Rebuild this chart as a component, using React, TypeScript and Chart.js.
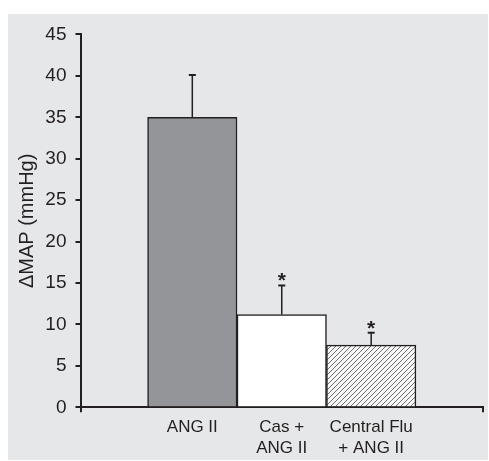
import React, { useEffect, useRef } from "react";
import { Chart, registerables } from "chart.js";

Chart.register(...registerables);

// ---- data ----
const categories: string[][] = [["ANG II"], ["Cas +", "ANG II"], ["Central Flu", "+ ANG II"]];
const meanValues: number[] = [35, 11.2, 7.5];
const semValues: number[] = [5.1, 3.5, 1.5];
const significance: string[] = ["", "*", "*"];
const yTicks = { min: 0, max: 45, step: 5 };
const yTitle = "\u0394MAP (mmHg)";

// ---- layout / style ----
const INK = "#231f20";
const PANEL = "#e6e7e8";
const FONT = '"Liberation Sans", Arial, Helvetica, sans-serif';
const X_FIRST = 1.25; // position of the first bar on the x axis
const X_MAX = 4.5;

function makeHatch(): CanvasPattern | string {
  const s = 5;
  const c = document.createElement("canvas");
  c.width = s;
  c.height = s;
  const g = c.getContext("2d");
  if (!g) return "#ffffff";
  g.fillStyle = "#f7f7f7";
  g.fillRect(0, 0, s, s);
  g.strokeStyle = "#6d6e71";
  g.lineWidth = 1;
  g.beginPath();
  g.moveTo(0, s);
  g.lineTo(s, 0);
  g.moveTo(-1, 1);
  g.lineTo(1, -1);
  g.moveTo(s - 1, s + 1);
  g.lineTo(s + 1, s - 1);
  g.stroke();
  const p = g.createPattern(c, "repeat");
  return p || "#ffffff";
}

const errorBarPlugin = {
  id: "errorBars",
  afterDatasetsDraw(chart: any) {
    const ctx = chart.ctx;
    const meta = chart.getDatasetMeta(0);
    const y = chart.scales.y;
    meta.data.forEach((bar: any, i: number) => {
      const base = y.getPixelForValue(meanValues[i]);
      const top = y.getPixelForValue(meanValues[i] + semValues[i]);
      ctx.save();
      ctx.strokeStyle = INK;
      ctx.lineWidth = 1.5;
      ctx.beginPath();
      ctx.moveTo(bar.x, base);
      ctx.lineTo(bar.x, top);
      ctx.stroke();
      ctx.lineWidth = 2;
      ctx.beginPath();
      ctx.moveTo(bar.x - 3.5, top);
      ctx.lineTo(bar.x + 3.5, top);
      ctx.stroke();
      if (significance[i]) {
        ctx.fillStyle = INK;
        ctx.font = `bold 21px ${FONT}`;
        ctx.textAlign = "center";
        ctx.textBaseline = "alphabetic";
        ctx.fillText(significance[i], bar.x, top + 2);
      }
      ctx.restore();
    });
  },
};

export default function App() {
  const ref = useRef<HTMLCanvasElement | null>(null);

  useEffect(() => {
    const canvas = ref.current;
    if (!canvas) return;
    const hatch = makeHatch();
    const xPositions = categories.map((_, i) => X_FIRST + i);
    const tickPositions = [0, ...xPositions, X_MAX];
    const tickLabels: (string | string[])[] = ["", ...categories, ""];

    const chart = new Chart(canvas, {
      type: "bar",
      data: {
        datasets: [
          {
            data: meanValues.map((v, i) => ({ x: xPositions[i], y: v })),
            backgroundColor: ["#939598", "#ffffff", hatch as any],
            borderColor: INK,
            borderWidth: 1.5,
            barPercentage: 1,
            categoryPercentage: 1,
          },
        ],
      },
      options: {
        responsive: false,
        animation: false,
        devicePixelRatio: 1,
        layout: { padding: { top: 20, left: 0, right: 4, bottom: 0 } },
        plugins: { legend: { display: false }, tooltip: { enabled: false } },
        scales: {
          x: {
            type: "linear",
            min: 0,
            max: X_MAX,
            offset: false,
            grid: {
              offset: false,
              drawOnChartArea: false,
              drawTicks: true,
              tickLength: 5,
              lineWidth: 2,
              tickColor: (c: any) =>
                c.tick && (c.tick.value === 0 || c.tick.value === X_MAX) ? INK : "rgba(0,0,0,0)",
            },
            border: { display: true, color: INK, width: 2 },
            afterBuildTicks: (scale: any) => {
              scale.ticks = tickPositions.map((v) => ({ value: v }));
            },
            afterFit: (scale: any) => {
              scale.height = 52.7;
            },
            ticks: {
              autoSkip: false,
              maxRotation: 0,
              padding: 5,
              color: INK,
              font: { family: FONT, size: 17, lineHeight: 21 / 17 },
              callback: (_v: any, i: number) => tickLabels[i],
            },
          },
          y: {
            min: yTicks.min,
            max: yTicks.max,
            grid: {
              drawOnChartArea: false,
              drawTicks: true,
              tickLength: 5,
              lineWidth: 2,
              color: INK,
            },
            border: { display: true, color: INK, width: 2 },
            afterFit: (scale: any) => {
              scale.width = 72.5;
            },
            ticks: {
              stepSize: yTicks.step,
              padding: 9,
              color: INK,
              font: { family: FONT, size: 19 },
            },
            title: {
              display: true,
              text: yTitle,
              color: INK,
              padding: { top: 7, bottom: 0 },
              font: { family: FONT, size: 20 },
            },
          },
        },
      },
      plugins: [errorBarPlugin],
    } as any);
    return () => chart.destroy();
  }, []);

  return (
    <div
      style={{
        position: "absolute",
        left: 8,
        top: 14,
        width: 480,
        height: 446,
        background: PANEL,
      }}
    >
      <canvas ref={ref} width={480} height={446} style={{ display: "block", width: 480, height: 446 }} />
    </div>
  );
}
